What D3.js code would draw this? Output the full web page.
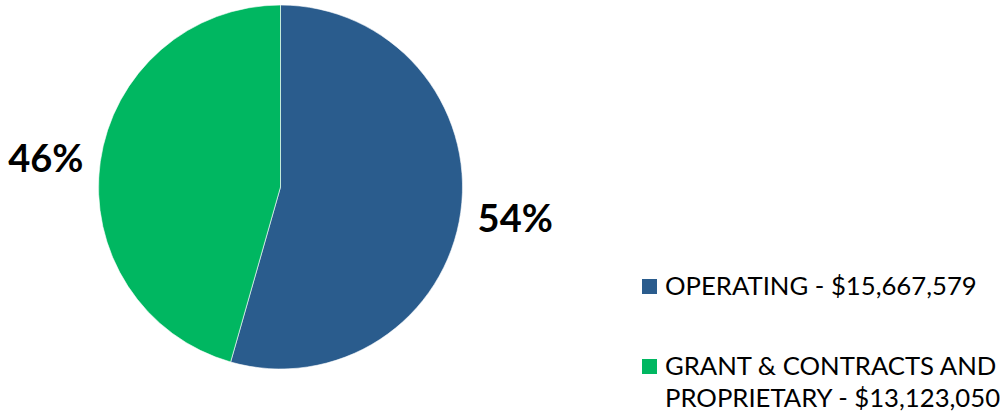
<!DOCTYPE html>
<html>
<head>
<meta charset="utf-8">
<script src="https://cdn.jsdelivr.net/npm/d3@7"></script>
<style>
  html, body { margin: 0; padding: 0; background: #fff; }
  svg { display: block; }
</style>
</head>
<body>
<svg id="chart" width="1003" height="417"></svg>
<script>
// Budget split by funding source
const categories = ["OPERATING", "GRANT & CONTRACTS AND PROPRIETARY"];
const amounts = [15667579, 13123050];
const legendLines = [
  ["OPERATING - $15,667,579"],
  ["GRANT & CONTRACTS AND", "PROPRIETARY - $13,123,050"]
];
const colors = ["#2A5C8D", "#00B761"];

const svg = d3.select("#chart");
const cx = 280.5, cy = 187, radius = 182;

const pie = d3.pie().sort(null).value(d => d)(amounts);
const arc = d3.arc().innerRadius(0).outerRadius(radius);

const g = svg.append("g").attr("transform", `translate(${cx},${cy})`);
g.selectAll("path")
  .data(pie)
  .join("path")
  .attr("d", arc)
  .attr("fill", (d, i) => colors[i])
  .attr("stroke", "#fff")
  .attr("stroke-width", 0.6);

// Percentage labels, placed outside the pie along each slice's mid-angle
const total = d3.sum(amounts);
const fmt = d3.format(".0%");
const labelArc = d3.arc().innerRadius(radius + 55).outerRadius(radius + 55);
g.selectAll("text.pct")
  .data(pie)
  .join("text")
  .attr("class", "pct")
  .attr("x", d => labelArc.centroid(d)[0])
  .attr("y", d => labelArc.centroid(d)[1] * 0.92)
  .attr("text-anchor", "middle")
  .attr("dominant-baseline", "central")
  .attr("font-family", "Lato, 'Open Sans', sans-serif")
  .attr("font-weight", "bold")
  .attr("font-size", 38)
  .attr("fill", "#000")
  .text(d => fmt(d.value / total));

// Legend
const legend = svg.append("g").attr("transform", "translate(642,279)");
const rowY = [0, 80];
legendLines.forEach((lines, i) => {
  const row = legend.append("g").attr("transform", `translate(0,${rowY[i]})`);
  row.append("rect").attr("width", 15).attr("height", 15).attr("fill", colors[i]);
  const t = row.append("text")
    .attr("x", 23)
    .attr("y", 16)
    .attr("font-family", "Lato, 'Open Sans', sans-serif")
    .attr("font-size", 25.7)
    .attr("fill", "#000");
  lines.forEach((ln, j) => {
    t.append("tspan").attr("x", 23).attr("dy", j === 0 ? 0 : 32).text(ln);
  });
});
</script>
</body>
</html>
